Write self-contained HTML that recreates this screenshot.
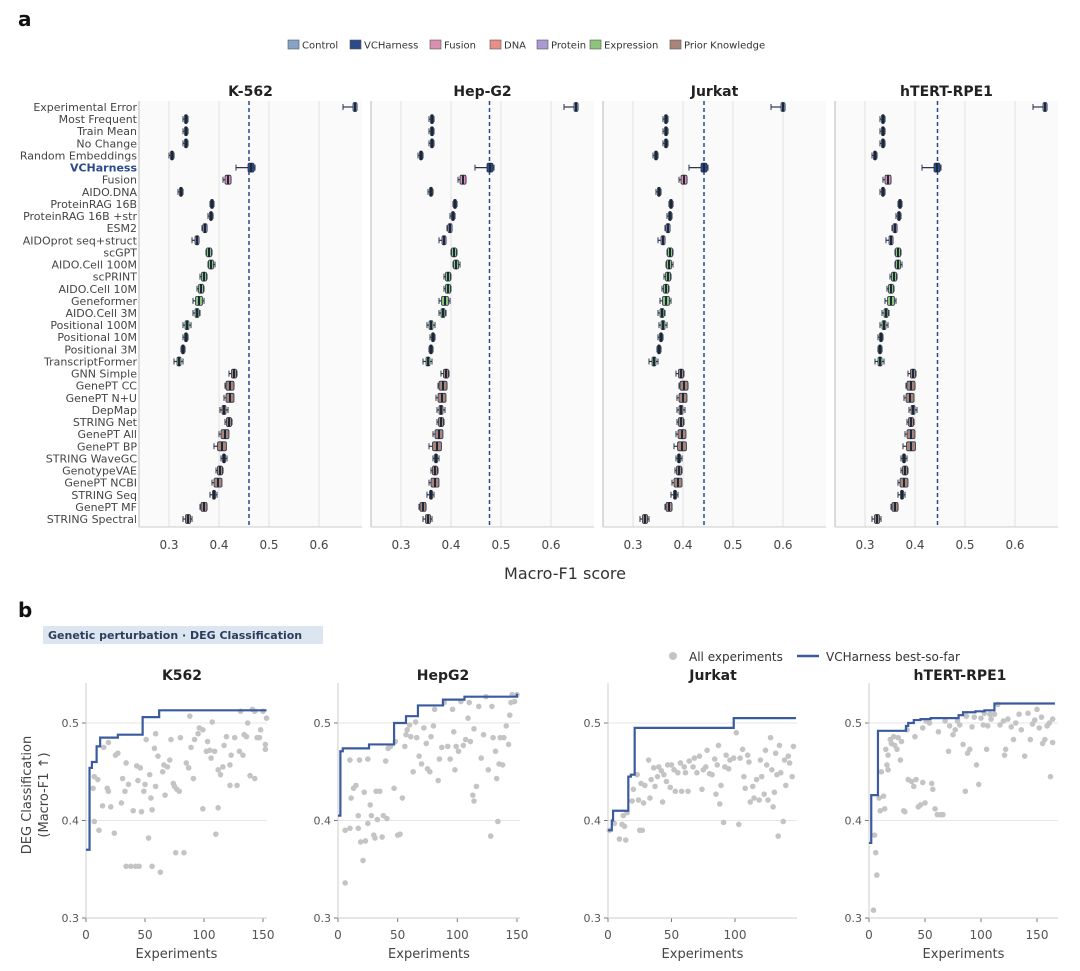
<!DOCTYPE html>
<html><head><meta charset="utf-8">
<style>
html,body{margin:0;padding:0;background:#fff;}
svg{display:block;font-family:"DejaVu Sans","Liberation Sans",sans-serif;}
</style></head>
<body>
<svg id="chart" width="1080" height="971" viewBox="0 0 1080 971" xmlns="http://www.w3.org/2000/svg">
<text x="18" y="26" font-size="20" font-weight="bold" fill="#111">a</text>
<text x="18" y="617" font-size="20" font-weight="bold" fill="#111">b</text>
<g id="legendA"></g>
<g id="panelA"></g>
<text x="565" y="579" font-size="16" fill="#333" text-anchor="middle">Macro-F1 score</text>
<rect x="43" y="626" width="280" height="18" fill="#dce6f1"></rect>
<text x="48" y="639" font-size="11" font-weight="bold" fill="#2c3e5c">Genetic perturbation · DEG Classification</text>
<g id="legendB">
<circle cx="673" cy="656" r="4" fill="#c4c4c4"></circle>
<text x="689" y="661" font-size="12" fill="#333">All experiments</text>
<line x1="797" y1="656" x2="819" y2="656" stroke="#3a5ba0" stroke-width="2.5"></line>
<text x="826" y="661" font-size="12" fill="#333">VCHarness best-so-far</text>
</g>
<text transform="translate(31,795) rotate(-90)" font-size="13" fill="#444" text-anchor="middle">DEG Classification</text>
<text transform="translate(48,795) rotate(-90)" font-size="13" fill="#444" text-anchor="middle">(Macro-F1 ↑)</text>
<g id="panelB"></g>
</svg>
<script>
// ---------- Panel a data ----------
const rowLabels = ["Experimental Error","Most Frequent","Train Mean","No Change","Random Embeddings","VCHarness","Fusion","AIDO.DNA","ProteinRAG 16B","ProteinRAG 16B +str","ESM2","AIDOprot seq+struct","scGPT","AIDO.Cell 100M","scPRINT","AIDO.Cell 10M","Geneformer","AIDO.Cell 3M","Positional 100M","Positional 10M","Positional 3M","TranscriptFormer","GNN Simple","GenePT CC","GenePT N+U","DepMap","STRING Net","GenePT All","GenePT BP","STRING WaveGC","GenotypeVAE","GenePT NCBI","STRING Seq","GenePT MF","STRING Spectral"];
const rowGroups = ["Control","Control","Control","Control","Control","VCHarness","Fusion","DNA","Protein","Protein","Protein","Protein","Expression","Expression","Expression","Expression","Expression","Expression","Expression","Expression","Expression","Expression","Prior Knowledge","Prior Knowledge","Prior Knowledge","Prior Knowledge","Prior Knowledge","Prior Knowledge","Prior Knowledge","Prior Knowledge","Prior Knowledge","Prior Knowledge","Prior Knowledge","Prior Knowledge","Prior Knowledge"];
const cellLines = ["K-562","Hep-G2","Jurkat","hTERT-RPE1"];
const medK562 = [0.672,0.334,0.334,0.334,0.306,0.464,0.418,0.324,0.386,0.384,0.372,0.356,0.38,0.384,0.37,0.364,0.36,0.356,0.336,0.334,0.328,0.32,0.43,0.422,0.422,0.41,0.42,0.412,0.406,0.41,0.402,0.398,0.39,0.37,0.338];
const medHepG2 = [0.65,0.362,0.362,0.362,0.34,0.478,0.424,0.36,0.408,0.404,0.398,0.386,0.406,0.41,0.394,0.394,0.388,0.384,0.36,0.364,0.36,0.354,0.39,0.384,0.382,0.38,0.38,0.376,0.372,0.37,0.368,0.368,0.36,0.344,0.354];
const medJurkat = [0.60,0.366,0.366,0.366,0.346,0.442,0.402,0.352,0.376,0.374,0.37,0.36,0.374,0.372,0.37,0.366,0.366,0.358,0.36,0.356,0.352,0.342,0.396,0.402,0.40,0.396,0.396,0.398,0.398,0.392,0.392,0.39,0.384,0.372,0.324];
const medRPE1 = [0.66,0.336,0.336,0.336,0.32,0.444,0.346,0.336,0.37,0.368,0.36,0.352,0.366,0.366,0.358,0.352,0.352,0.342,0.338,0.332,0.33,0.33,0.396,0.392,0.39,0.396,0.392,0.392,0.392,0.378,0.38,0.378,0.374,0.36,0.324];
const boxHalf = [0.004,0.003,0.003,0.003,0.003,0.006,0.006,0.003,0.003,0.003,0.004,0.004,0.005,0.005,0.005,0.005,0.007,0.004,0.004,0.003,0.003,0.004,0.005,0.008,0.008,0.004,0.005,0.008,0.009,0.003,0.005,0.008,0.003,0.006,0.005];
const whiskLo = [0.024,0.006,0.006,0.006,0.006,0.030,0.010,0.006,0.004,0.006,0.006,0.010,0.006,0.006,0.008,0.008,0.012,0.008,0.008,0.006,0.004,0.010,0.010,0.010,0.012,0.008,0.008,0.012,0.016,0.006,0.008,0.012,0.008,0.008,0.010];
const whiskHi = [0.004,0.004,0.004,0.004,0.004,0.008,0.006,0.004,0.004,0.004,0.004,0.004,0.006,0.008,0.006,0.006,0.010,0.006,0.008,0.004,0.004,0.008,0.006,0.008,0.006,0.008,0.006,0.006,0.006,0.006,0.006,0.006,0.006,0.006,0.008];
const refLines = [0.46,0.477,0.442,0.445];
const xTicksA = [0.3,0.4,0.5,0.6];
const groupNames = ["Control","VCHarness","Fusion","DNA","Protein","Expression","Prior Knowledge"];
const groupColors = ["#86a3c6","#2b4a8a","#d98fb1","#e58f86","#a99ad3","#8cc47b","#a88479"];

// ---------- Panel b data ----------
const panelBTitles = ["K562","HepG2","Jurkat","hTERT-RPE1"];
const k562X = [6,7,10,7,11,14,15,19,18,19,21,24,25,27,30,31,33,34,36,34,38,42,45,40,43,46,44,47,49,50,51,53,54,55,56,56,58,59,59,61,63,65,66,67,69,71,72,74,75,77,79,76,80,83,85,87,88,89,91,92,95,96,99,99,102,103,105,107,106,109,110,112,112,114,116,117,119,122,122,123,126,128,130,131,133,134,136,137,139,141,143,143,145,147,148,150,152,153,152];
const k562Y = [.433,.445,.442,.399,.39,.415,.475,.48,.433,.43,.414,.387,.467,.469,.418,.443,.43,.459,.437,.353,.353,.353,.353,.41,.456,.454,.441,.409,.43,.437,.483,.382,.447,.423,.411,.353,.474,.435,.489,.466,.347,.45,.457,.426,.455,.462,.483,.438,.435,.432,.43,.367,.485,.367,.459,.454,.507,.475,.443,.483,.489,.495,.412,.493,.471,.481,.472,.501,.464,.471,.386,.452,.413,.447,.455,.477,.486,.457,.436,.467,.485,.436,.471,.512,.467,.488,.486,.5,.446,.514,.512,.443,.485,.485,.493,.512,.478,.505,.473];
const hepg2X = [6,6,10,10,11,13,15,17,17,19,18,21,22,23,25,25,27,28,30,31,32,33,35,37,38,40,41,42,44,47,48,50,52,54,56,57,58,60,61,63,65,66,68,70,72,74,75,77,78,80,81,84,85,87,89,92,94,96,97,98,99,101,103,105,107,109,110,111,113,114,116,114,118,120,122,124,126,128,129,130,132,133,134,135,136,138,139,141,143,144,145,146,148,150];
const hepg2Y = [.336,.39,.392,.462,.423,.433,.436,.405,.392,.378,.462,.359,.429,.379,.397,.463,.416,.405,.385,.382,.43,.401,.43,.383,.405,.461,.402,.474,.476,.433,.481,.385,.386,.423,.476,.488,.493,.498,.486,.45,.501,.485,.466,.458,.495,.479,.453,.45,.486,.497,.514,.441,.463,.475,.521,.476,.463,.514,.491,.452,.476,.471,.522,.477,.483,.505,.521,.481,.426,.42,.435,.494,.517,.464,.488,.527,.452,.384,.517,.485,.471,.443,.399,.458,.485,.457,.485,.497,.478,.508,.521,.529,.522,.529];
const jurkatX = [1,5,9,11,13,14,12,15,19,20,23,24,25,27,26,28,29,32,33,34,36,37,39,40,43,42,44,46,47,49,50,52,53,55,57,58,60,61,63,64,67,68,70,72,74,75,77,78,80,82,84,85,86,87,88,89,91,92,93,95,96,99,101,103,104,106,107,108,110,111,112,114,115,117,119,120,121,123,124,125,126,128,129,130,131,132,133,134,135,136,138,139,140,142,143,145,146];
const jurkatY = [.39,.397,.381,.396,.394,.38,.405,.408,.42,.432,.447,.421,.39,.39,.438,.418,.436,.462,.423,.442,.454,.435,.445,.455,.419,.451,.447,.44,.457,.434,.457,.452,.43,.449,.459,.43,.455,.449,.43,.461,.455,.464,.449,.466,.432,.452,.455,.472,.448,.447,.463,.427,.457,.477,.417,.436,.398,.455,.467,.453,.462,.464,.49,.396,.464,.473,.445,.433,.467,.46,.419,.435,.423,.442,.421,.462,.445,.427,.472,.457,.421,.485,.452,.414,.429,.469,.447,.384,.477,.449,.399,.462,.436,.466,.459,.445,.476];
const rpe1X = [4,5,6,7,9,10,11,13,14,15,16,17,17,19,20,22,23,25,26,28,29,31,32,34,35,38,40,41,42,44,46,48,48,50,51,54,56,57,59,61,62,64,66,68,71,72,75,77,79,81,84,86,87,88,90,92,94,96,98,100,102,103,105,106,108,109,112,115,117,120,121,122,124,127,129,131,134,136,139,142,144,146,148,150,152,154,155,157,159,161,162,164,164];
const rpe1Y = [.308,.385,.367,.344,.423,.41,.45,.425,.412,.473,.457,.452,.467,.483,.479,.486,.477,.473,.485,.462,.481,.41,.409,.493,.442,.44,.435,.486,.442,.414,.416,.439,.495,.418,.502,.5,.438,.432,.412,.406,.491,.406,.406,.502,.471,.497,.488,.493,.502,.498,.478,.43,.507,.469,.473,.496,.506,.457,.437,.505,.498,.51,.473,.497,.509,.504,.509,.519,.498,.502,.467,.473,.504,.496,.483,.5,.509,.493,.466,.51,.483,.499,.503,.514,.495,.506,.479,.483,.497,.5,.445,.504,.48];
const k562StepX = [0,3,5,9,12,27,48,62,153];
const k562StepY = [.37,.454,.46,.476,.485,.488,.506,.513,.513];
const hepg2StepX = [0,2,4,26,47,57,67,88,106,150];
const hepg2StepY = [.405,.471,.474,.478,.5,.507,.518,.524,.527,.53];
const jurkatStepX = [0,3,4,16,18,21,99,148];
const jurkatStepY = [.39,.40,.41,.445,.447,.495,.505,.505];
const rpe1StepX = [0,2,8,33,35,40,46,55,80,84,95,103,112,166];
const rpe1StepY = [.377,.426,.492,.497,.5,.503,.504,.505,.508,.511,.512,.513,.52,.52];
const yTicksB = [0.3,0.4,0.5];
const xTicksK562 = [0,50,100,150];
const xTicksHepG2 = [0,50,100,150];
const xTicksJurkat = [0,50,100];
const xTicksRPE1 = [0,50,100,150];

const NS = "http://www.w3.org/2000/svg";
function mk(tag, attrs, parent, txt) {
  const e = document.createElementNS(NS, tag);
  for (const k in attrs) e.setAttribute(k, attrs[k]);
  if (txt !== undefined) e.textContent = txt;
  parent.appendChild(e);
  return e;
}

// ---------- Legend a ----------
const legA = document.getElementById("legendA");
const legXs = [288,350,430,490,537,590,670];
groupNames.forEach((g, i) => {
  const r = mk("rect", {x: legXs[i], y: 40, width: 11, height: 9, fill: groupColors[i], stroke: "#555", "stroke-width": 0.6}, legA);
  
  
  const t = mk("text", {x: legXs[i] + 14, y: 48.5, "font-size": 10, fill: "#333"}, legA, g);
  
  
});

// ---------- Panel a ----------
const pA = document.getElementById("panelA");
const facetX0 = [139,371,603,835];
const facetW = 223, topA = 101, botA = 527;
const rowY0 = 107, rowStep = (519 - 107) / 34;
const medians = [medK562, medHepG2, medJurkat, medRPE1];
function xA(f, v) { return facetX0[f] + (v - 0.24) * 500; }
function yA(i) { return rowY0 + i * rowStep; }

rowLabels.forEach((lab, i) => {
  const isV = lab === "VCHarness";
  const t = mk("text", {x: 137, y: yA(i) + 4, "font-size": 11, "text-anchor": "end", fill: isV ? "#2b4a8a" : "#444", "font-weight": isV ? "bold" : "normal"}, pA, lab);
  
  
});

cellLines.forEach((cl, f) => {
  const g = mk("g", {}, pA);
  
  
  const bg = mk("rect", {x: facetX0[f], y: topA, width: facetW, height: botA - topA, fill: "#fafafa"}, g);
  
  
  xTicksA.forEach(tv => {
    const gl = mk("line", {x1: xA(f, tv), x2: xA(f, tv), y1: topA, y2: botA, stroke: "#e2e2e2", "stroke-width": 1}, g);
    
    
    const tk = mk("text", {x: xA(f, tv), y: 549, "font-size": 12, fill: "#444", "text-anchor": "middle"}, g, tv.toFixed(1));
    
    
  });
  const sp = mk("line", {x1: facetX0[f], x2: facetX0[f], y1: topA, y2: botA, stroke: "#bbb", "stroke-width": 1}, g);
  
  
  const bs = mk("line", {x1: facetX0[f], x2: facetX0[f] + facetW, y1: botA, y2: botA, stroke: "#ccc", "stroke-width": 1}, g);
  
  
  const tt = mk("text", {x: facetX0[f] + facetW / 2, y: 96, "font-size": 14, "font-weight": "bold", fill: "#222", "text-anchor": "middle"}, g, cl);
  
  
  const rl = mk("line", {x1: xA(f, refLines[f]), x2: xA(f, refLines[f]), y1: topA, y2: botA, stroke: "#2b4a8a", "stroke-width": 1.5, "stroke-dasharray": "4,3"}, g);
  
  
  medians[f].forEach((m, i) => {
    const col = groupColors[groupNames.indexOf(rowGroups[i])];
    const y = yA(i);
    const wl = mk("line", {x1: xA(f, m - whiskLo[i]), x2: xA(f, m + whiskHi[i]), y1: y, y2: y, stroke: "#2a3548", "stroke-width": 1.2}, g);
    
    
    [m - whiskLo[i], m + whiskHi[i]].forEach(c => {
      const cap = mk("line", {x1: xA(f, c), x2: xA(f, c), y1: y - 3, y2: y + 3, stroke: "#2a3548", "stroke-width": 1}, g);
      
      
    });
    const bx = mk("rect", {x: xA(f, m - boxHalf[i]), y: y - 4.5, width: Math.max(3, boxHalf[i] * 1000), height: 9, fill: col, stroke: "#2a3548", "stroke-width": 0.8, rx: 1.5}, g);
    
    
    const md = mk("line", {x1: xA(f, m), x2: xA(f, m), y1: y - 4.5, y2: y + 4.5, stroke: "#1d2636", "stroke-width": 2}, g);
    
    
  });
});

// ---------- Panel b ----------
const pB = document.getElementById("panelB");
const bX0 = [86,338,608,869];
const bPxPer = [1.18,1.193,1.27,1.12];
const bRight = [267,520,797,1058];
const bTitleX = [182,443,713,960];
const ptsX = [k562X, hepg2X, jurkatX, rpe1X];
const ptsY = [k562Y, hepg2Y, jurkatY, rpe1Y];
const stX = [k562StepX, hepg2StepX, jurkatStepX, rpe1StepX];
const stY = [k562StepY, hepg2StepY, jurkatStepY, rpe1StepY];
const xTks = [xTicksK562, xTicksHepG2, xTicksJurkat, xTicksRPE1];
const topB = 683, botB = 918;
function yB(v) { return 918 - (v - 0.3) * 975; }

panelBTitles.forEach((nm, p) => {
  const xB = e => bX0[p] + e * bPxPer[p];
  const g = mk("g", {}, pB);
  
  
  const tt = mk("text", {x: bTitleX[p], y: 680, "font-size": 14, "font-weight": "bold", fill: "#222", "text-anchor": "middle"}, g, nm);
  
  
  yTicksB.forEach(v => {
    if (v > 0.3) {
      const gl = mk("line", {x1: bX0[p], x2: bRight[p], y1: yB(v), y2: yB(v), stroke: "#e6e6e6", "stroke-width": 1}, g);
      
      
    }
    const tm = mk("line", {x1: bX0[p] - 4, x2: bX0[p], y1: yB(v), y2: yB(v), stroke: "#777", "stroke-width": 1}, g);
    
    
    const tl = mk("text", {x: bX0[p] - 7, y: yB(v) + 4, "font-size": 11, fill: "#555", "text-anchor": "end"}, g, v.toFixed(1));
    
    
  });
  xTks[p].forEach(v => {
    const tm = mk("line", {x1: xB(v), x2: xB(v), y1: botB, y2: botB + 4, stroke: "#777", "stroke-width": 1}, g);
    
    
    const tl = mk("text", {x: xB(v), y: botB + 21, "font-size": 12, fill: "#555", "text-anchor": "middle"}, g, String(v));
    
    
  });
  const ls = mk("line", {x1: bX0[p], x2: bX0[p], y1: topB, y2: botB, stroke: "#ccc", "stroke-width": 1}, g);
  
  
  const bs = mk("line", {x1: bX0[p], x2: bRight[p], y1: botB, y2: botB, stroke: "#ccc", "stroke-width": 1}, g);
  
  
  const xl = mk("text", {x: (bX0[p] + bRight[p]) / 2, y: 958, "font-size": 13, fill: "#444", "text-anchor": "middle"}, g, "Experiments");
  
  
  ptsX[p].forEach((e, i) => {
    const c = mk("circle", {cx: xB(e), cy: yB(ptsY[p][i]), r: 2.8, fill: "#c4c4c4"}, g);
    
    
  });
  let d = "";
  stX[p].forEach((e, i) => {
    if (i === 0) d += "M" + xB(e) + "," + yB(stY[p][i]);
    else d += " H" + xB(e) + " V" + yB(stY[p][i]);
  });
  const path = mk("path", {d: d, fill: "none", stroke: "#3a5ba0", "stroke-width": 2.2}, g);
  
  
});
</script>
</body></html>
